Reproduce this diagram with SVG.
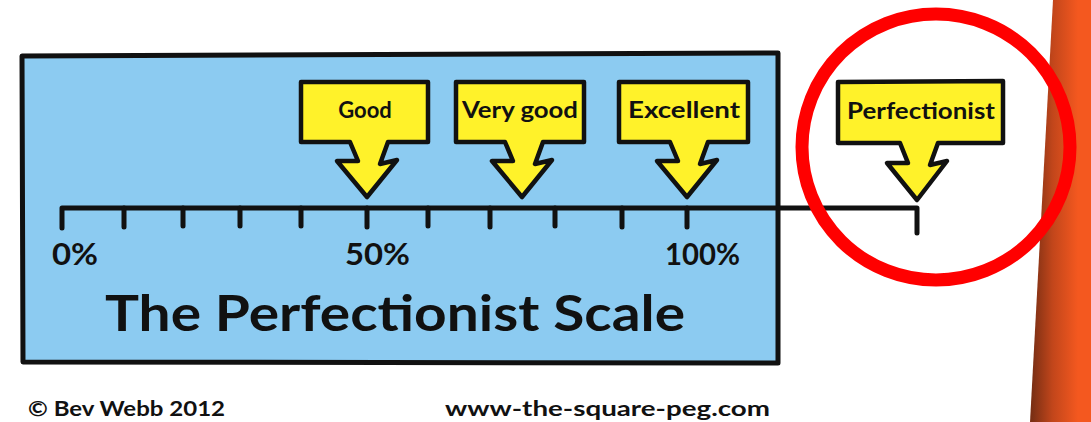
<svg xmlns="http://www.w3.org/2000/svg" width="1091" height="422" viewBox="0 0 1091 422">
  <defs>
    <linearGradient id="barGrad" gradientUnits="userSpaceOnUse" x1="1032" y1="0" x2="1078" y2="0">
      <stop offset="0" stop-color="#7a2f14"/>
      <stop offset="0.45" stop-color="#c2461b"/>
      <stop offset="1" stop-color="#f4581f"/>
    </linearGradient>
  </defs>
  <style>
    .panel { fill: #8ccbf1; stroke: #111; stroke-width: 5; stroke-linejoin: round; }
    .callout { fill: #fff22a; stroke: #111; stroke-width: 4.5; stroke-linejoin: round; }
    .line { fill: none; stroke: #111; stroke-width: 5; stroke-linecap: round; stroke-linejoin: round; }
    .tick { stroke: #111; stroke-width: 5; stroke-linecap: round; }
    .lbl { font-family: "Lato", "Open Sans", "Liberation Sans", sans-serif; font-weight: 700; fill: #111; text-anchor: middle; }
    .pct { font-family: "Lato", "Open Sans", "Liberation Sans", sans-serif; font-weight: 700; fill: #111; font-size: 31px; }
    .title { font-family: "Lato", "Open Sans", "Liberation Sans", sans-serif; font-weight: 700; fill: #111; font-size: 50px; }
    .foot { font-family: "Lato", "Open Sans", "Liberation Sans", sans-serif; font-weight: 700; fill: #111; font-size: 21px; }
  </style>

  <rect width="1091" height="422" fill="#ffffff"/>

  <!-- orange side bar -->
  <polygon points="1053,0 1091,0 1091,422 1030,422" fill="url(#barGrad)"/>

  <!-- blue panel -->
  <g id="panel">
    <path class="panel" d="M22,56 L778,53 L778,363 L23,362 Z"/>
  </g>

  <!-- scale -->
  <g id="connectors">
    <path class="line" d="M62,228 L62,208 L917,208 L917,233"/>
    <line class="tick" x1="124" y1="208" x2="124" y2="227"/>
    <line class="tick" x1="183" y1="208" x2="183" y2="226"/>
    <line class="tick" x1="240" y1="208" x2="240" y2="226"/>
    <line class="tick" x1="301" y1="208" x2="301" y2="226"/>
    <line class="tick" x1="367" y1="208" x2="367" y2="227"/>
    <line class="tick" x1="428" y1="208" x2="428" y2="226"/>
    <line class="tick" x1="490" y1="208" x2="490" y2="227"/>
    <line class="tick" x1="555" y1="208" x2="555" y2="226"/>
    <line class="tick" x1="622" y1="208" x2="622" y2="227"/>
    <line class="tick" x1="687" y1="208" x2="687" y2="227"/>
  </g>

  <g id="percent-labels">
    <text class="pct" x="52" y="265" textLength="46" lengthAdjust="spacingAndGlyphs">0%</text>
    <text class="pct" x="345" y="265" textLength="65" lengthAdjust="spacingAndGlyphs">50%</text>
    <text class="pct" x="665" y="265" textLength="75" lengthAdjust="spacingAndGlyphs">100%</text>
  </g>

  <g id="title">
    <text class="title" x="105" y="331" textLength="580" lengthAdjust="spacingAndGlyphs">The Perfectionist Scale</text>
  </g>

  <g id="callout-good">
    <path class="callout" d="M301,82 L428,82 L428,142 L388,142 L380,164 L397,160 L367,197 L337,161 L358,161 L350,142 L301,142 Z"/>
    <text class="lbl" x="365" y="118" font-size="22">Good</text>
  </g>

  <g id="callout-very-good">
    <path class="callout" d="M456,82 L584,82 L584,142 L543,142 L535,164 L552,160 L522,197 L492,161 L513,161 L505,142 L456,142 Z"/>
    <text class="lbl" x="520" y="118" font-size="22" textLength="116" lengthAdjust="spacingAndGlyphs">Very good</text>
  </g>

  <g id="callout-excellent">
    <path class="callout" d="M619,82 L748,82 L748,142 L708,142 L700,164 L717,160 L687,197 L657,161 L678,161 L670,142 L619,142 Z"/>
    <text class="lbl" x="684" y="118" font-size="22" textLength="112" lengthAdjust="spacingAndGlyphs">Excellent</text>
  </g>

  <g id="callout-perfectionist">
    <path class="callout" d="M838,82 L1003,81 L1003,143 L938,143 L930,165 L947,161 L917,200 L887,163 L908,163 L900,143 L838,143 Z"/>
    <text class="lbl" x="921" y="119" font-size="22" textLength="148" lengthAdjust="spacingAndGlyphs">Perfectionist</text>
  </g>

  <g id="highlight-circle">
    <ellipse cx="936" cy="147" rx="134" ry="133" fill="none" stroke="#ff0000" stroke-width="13"/>
  </g>

  <g id="footer">
    <text class="foot" x="28" y="416" textLength="197" lengthAdjust="spacingAndGlyphs">© Bev Webb 2012</text>
    <text class="foot" x="445" y="416" textLength="325" lengthAdjust="spacingAndGlyphs">www-the-square-peg.com</text>
  </g>
</svg>
